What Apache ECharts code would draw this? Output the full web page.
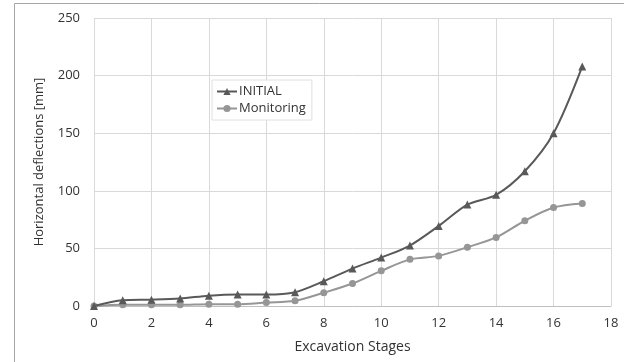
<!DOCTYPE html>
<html>
<head>
<meta charset="utf-8">
<script src="https://cdn.jsdelivr.net/npm/echarts@6/dist/echarts.min.js"></script>
<style>
  html, body { margin: 0; padding: 0; background: #fff; }
  #chart { width: 624px; height: 362px; }
</style>
</head>
<body>
<div id="chart"></div>
<script>
// excavation stages (x)
const stages = [0, 1, 2, 3, 4, 5, 6, 7, 8, 9, 10, 11, 12, 13, 14, 15, 16, 17];
// horizontal deflections [mm]
const initialValues = [0, 5, 5.5, 6.5, 9, 10, 10, 12, 21.5, 32.5, 42, 52.5, 69.5, 88, 96.5, 117, 150, 208];
const monitoringValues = [0, 1, 1, 1, 1.5, 1.5, 3, 4.5, 11.5, 19.5, 30.5, 40.5, 43.5, 51, 59.5, 74, 85.5, 89];

const chart = echarts.init(document.getElementById("chart"));

const font = "'Open Sans', 'Liberation Sans', sans-serif";

const option = {
  animation: false,
  textStyle: { fontFamily: font, color: "#333" },
  // outer frame of the picture
  graphic: [
    {
      type: "rect",
      shape: { x: 14.5, y: 3.5, width: 620, height: 380 },
      style: { fill: "none", stroke: "#a6a6a6", lineWidth: 1 },
      silent: true,
    },
  ],
  grid: {
    left: 94,
    right: 13,
    top: 18,
    bottom: 56,
  },
  legend: {
    left: 212,
    top: 80,
    orient: "vertical",
    itemGap: 4,
    itemWidth: 20,
    itemHeight: 9,
    padding: [5, 6, 5, 4],
    borderColor: "#e0e0e0",
    borderWidth: 1,
    backgroundColor: "#fff",
    textStyle: { fontSize: 13, color: "#333", fontFamily: font, padding: [0, 0, 0, -3] },
    data: ["INITIAL", "Monitoring"],
  },
  xAxis: {
    type: "value",
    min: 0,
    max: 18,
    interval: 2,
    name: "Excavation Stages",
    nameLocation: "middle",
    nameGap: 34,
    nameTextStyle: { fontSize: 14, color: "#333" },
    axisLine: { show: true, lineStyle: { color: "#bfbfbf" } },
    axisTick: { show: false },
    axisLabel: { fontSize: 13, color: "#333", margin: 11 },
    splitLine: { show: true, lineStyle: { color: "#d9d9d9" } },
  },
  yAxis: {
    type: "value",
    min: 0,
    max: 250,
    interval: 50,
    name: "Horizontal deflections [mm]",
    nameLocation: "middle",
    nameGap: 48,
    nameTextStyle: { fontSize: 13, color: "#333" },
    axisLine: { show: false },
    axisTick: { show: false },
    axisLabel: { fontSize: 13, color: "#333", margin: 14 },
    splitLine: { show: true, lineStyle: { color: "#d9d9d9" } },
  },
  series: [
    {
      name: "INITIAL",
      type: "line",
      smooth: 0.3,
      symbol: "triangle",
      symbolSize: 8,
      color: "#595959",
      lineStyle: { width: 2, color: "#595959" },
      itemStyle: { color: "#595959" },
      data: stages.map((s, i) => [s, initialValues[i]]),
      z: 3,
    },
    {
      name: "Monitoring",
      type: "line",
      smooth: 0.3,
      symbol: "circle",
      symbolSize: 7,
      color: "#969696",
      lineStyle: { width: 2, color: "#969696" },
      itemStyle: { color: "#969696" },
      data: stages.map((s, i) => [s, monitoringValues[i]]),
      z: 2,
    },
  ],
};

chart.setOption(option);
</script>
</body>
</html>
